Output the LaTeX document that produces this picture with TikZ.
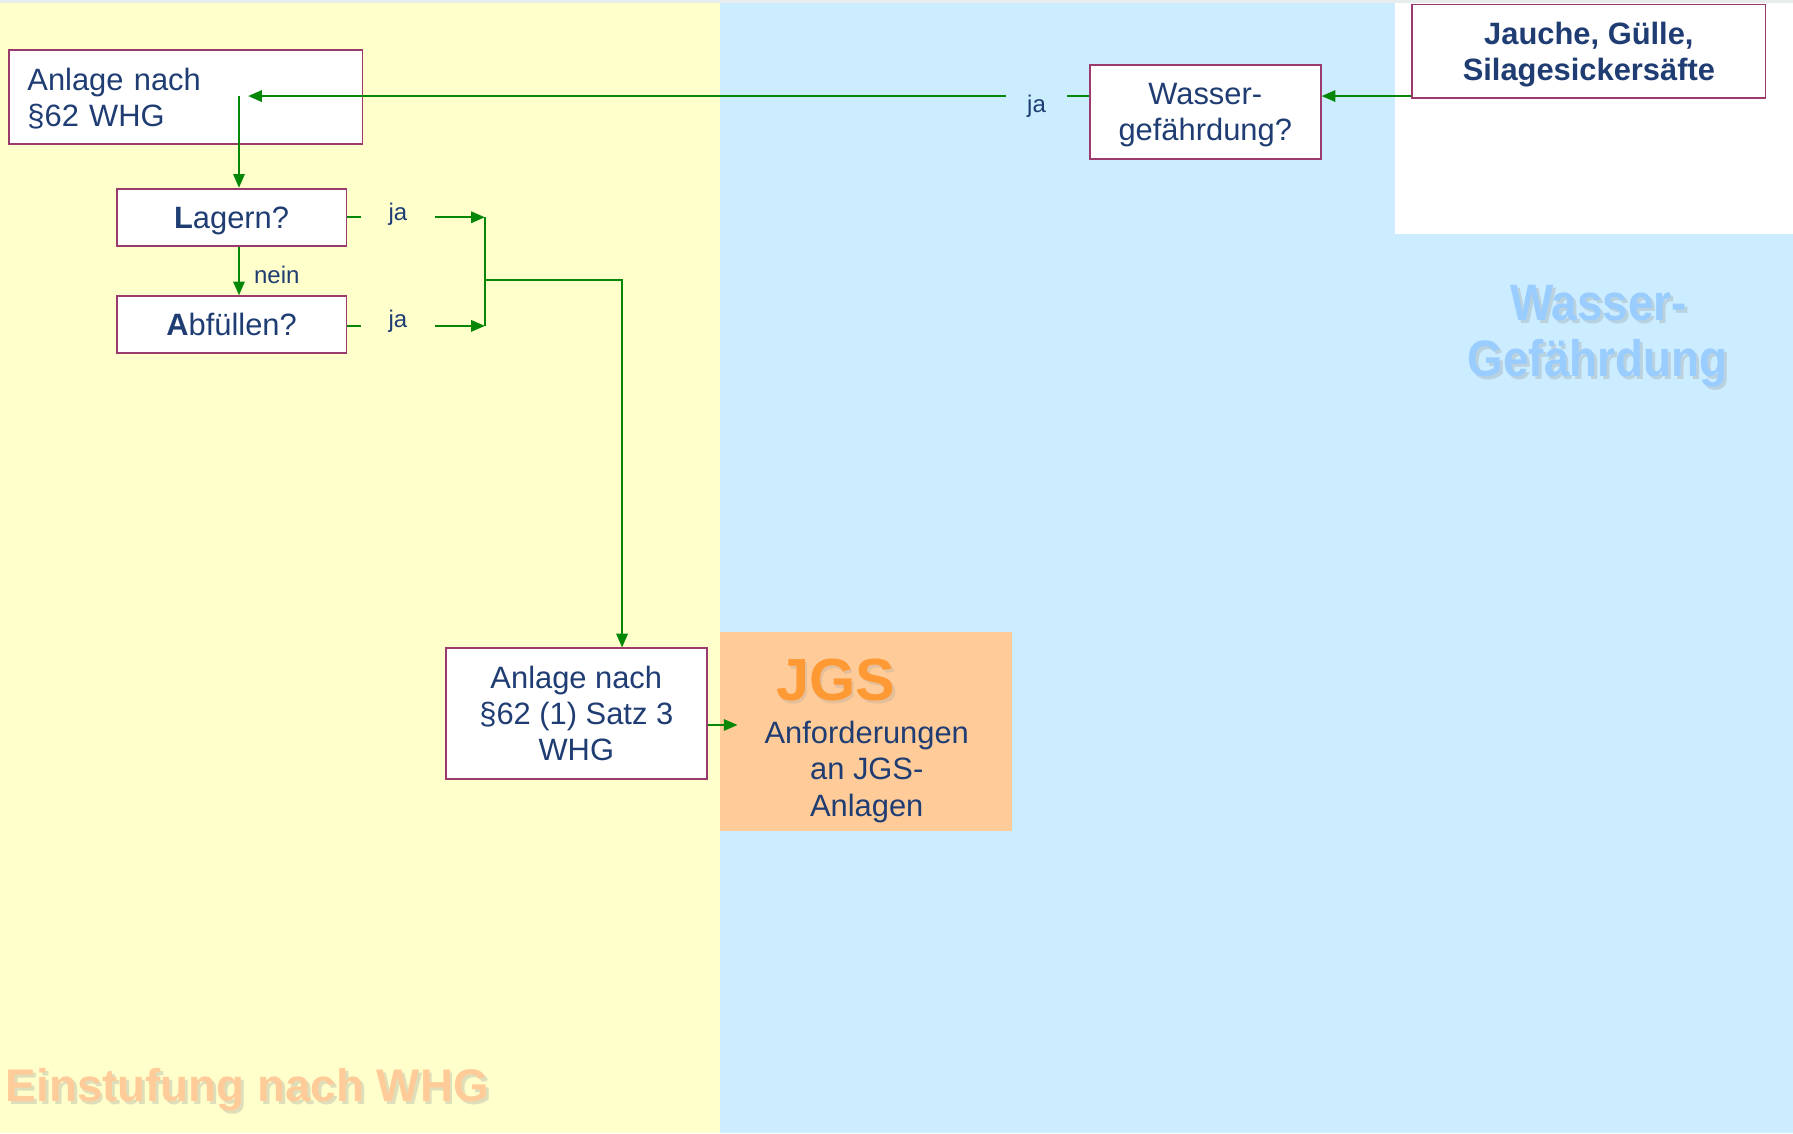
\documentclass[tikz,border=0pt]{standalone}
\usepackage{fontspec}
\setmainfont{Liberation Sans}
\usetikzlibrary{arrows.meta}
\definecolor{ylw}{HTML}{FFFFCC}
\definecolor{blu}{HTML}{CCECFF}
\definecolor{org}{HTML}{FFCC99}
\definecolor{jgsc}{HTML}{FF9933}
\definecolor{txt}{HTML}{1F3D73}
\definecolor{brd}{HTML}{9B3A6C}
\definecolor{grn}{HTML}{078707}
\definecolor{wm}{HTML}{99CCFF}
\definecolor{topg}{HTML}{E9ECEC}
\begin{document}
\begin{tikzpicture}[x=1pt,y=-1pt,
  box/.style={draw=brd,line width=1.6pt,fill=white,text=txt,
    font=\fontsize{27}{31.5}\selectfont,align=center,inner sep=0pt,text depth=0pt},
  conn/.style={draw=grn,line width=1.6pt},
  arr/.style={conn,-{Triangle[length=12pt,width=10pt]}},
  lbl/.style={text=txt,font=\fontsize{21}{25}\selectfont,inner sep=0pt},
  wmfont/.style={font=\bfseries\fontsize{40}{49}\selectfont,inner sep=0pt},
  shad/.style={text=black!45,opacity=0.28}]
\useasboundingbox (0,0) rectangle (1568,991);
% backgrounds
\fill[ylw] (0,0) rectangle (630,991);
\fill[blu] (630,0) rectangle (1568,991);
\fill[white] (1220,0) rectangle (1568,205);
\fill[topg] (0,0) rectangle (1568,3);
% watermarks
\begin{scope}[shift={(1400.5,283)}]
  \node[wmfont,shad,anchor=base,yscale=1.12,transform shape] (wm1s) at (0,0) {Wasser-};
\end{scope}
\begin{scope}[shift={(1398,280)}]
  \node[wmfont,text=wm,anchor=base,yscale=1.12,transform shape] (wm1) at (0,0) {Wasser-};
\end{scope}
\begin{scope}[shift={(1399.5,332)}]
  \node[wmfont,shad,anchor=base,yscale=1.12,transform shape] (wm2s) at (0,0) {Gefährdung};
\end{scope}
\begin{scope}[shift={(1397,329)}]
  \node[wmfont,text=wm,anchor=base,yscale=1.12,transform shape] (wm2) at (0,0) {Gefährdung};
\end{scope}
\node[wmfont,shad,anchor=base west] (e1s) at (7.5,966) {Einstufung nach WHG};
\node[wmfont,text=org,anchor=base west] (e1) at (5,963) {Einstufung nach WHG};
% JGS area
\node[fill=org,minimum width=255pt,minimum height=174pt,inner sep=0pt] (jgs) at (757.5,640) {};
\node[text=black!40,opacity=0.25,font=\bfseries\fontsize{52}{60}\selectfont,inner sep=0pt] (jgsts) at (733,597) {JGS};
\node[text=jgsc,font=\bfseries\fontsize{52}{60}\selectfont,inner sep=0pt] (jgst) at (731,595) {JGS};
\node[text=txt,font=\fontsize{27}{32}\selectfont,align=center,inner sep=0pt] (jgsx) at (758,675) {Anforderungen\\an JGS-\\Anlagen};
% boxes
\node[box,minimum width=309pt,minimum height=82pt,text width=277pt,align=left,inner xsep=16pt,text depth=30.5pt] (a1) at (162.5,85) {Anlage nach\\§62 WHG};
\node[box,minimum width=201pt,minimum height=50pt] (lagern) at (202.5,190) {\textbf{L}agern?};
\node[box,minimum width=201pt,minimum height=50pt] (abf) at (202.5,284) {\textbf{A}bfüllen?};
\node[box,minimum width=228pt,minimum height=114pt] (a3) at (504,624) {Anlage nach\\§62 (1) Satz 3\\WHG};
\node[box,minimum width=202pt,minimum height=82pt] (wasser) at (1054,98) {Wasser-\\gefährdung?};
\node[box,minimum width=309pt,minimum height=82pt,font=\bfseries\fontsize{27}{31.5}\selectfont] (jauche) at (1389.5,45) {Jauche, Gülle,\\Silagesickersäfte};
% labels
\node[lbl,minimum width=53pt] (ja1) at (906.5,93) {ja};
\node[lbl,minimum width=64pt] (ja2) at (348,187) {ja};
\node[lbl,minimum width=64pt] (ja3) at (348,281) {ja};
\node[lbl,anchor=west] (nein) at (222,240) {nein};
% coordinates
\coordinate (p84) at (0,84);
\coordinate (a1tip) at (217,84);
\coordinate (c1) at (209,84);
\coordinate (j1) at (424,190);
\coordinate (j2) at (424,285);
\coordinate (j3) at (424,245);
\coordinate (j4) at (544,245);
\coordinate (t1) at (645,634);
% connectors
\draw[arr] (jauche.west |- p84) -- (wasser.east |- p84);
\draw[conn] (wasser.west |- p84) -- (ja1.east |- p84);
\draw[arr] (ja1.west |- p84) -- (a1tip);
\draw[arr] (c1) -- (c1 |- lagern.north);
\draw[arr] (c1 |- lagern.south) -- (c1 |- abf.north);
\draw[conn] (lagern.east) -- (ja2.west |- lagern.east);
\draw[arr] (ja2.east |- lagern.east) -- (j1);
\draw[conn] (abf.east |- j2) -- (ja3.west |- j2);
\draw[arr] (ja3.east |- j2) -- (j2);
\draw[conn] (j1) -- (j2);
\draw[arr] (j3) -- (j4) -- (j4 |- a3.north);
\draw[arr] (a3.east |- t1) -- (t1);
\end{tikzpicture}
\end{document}
